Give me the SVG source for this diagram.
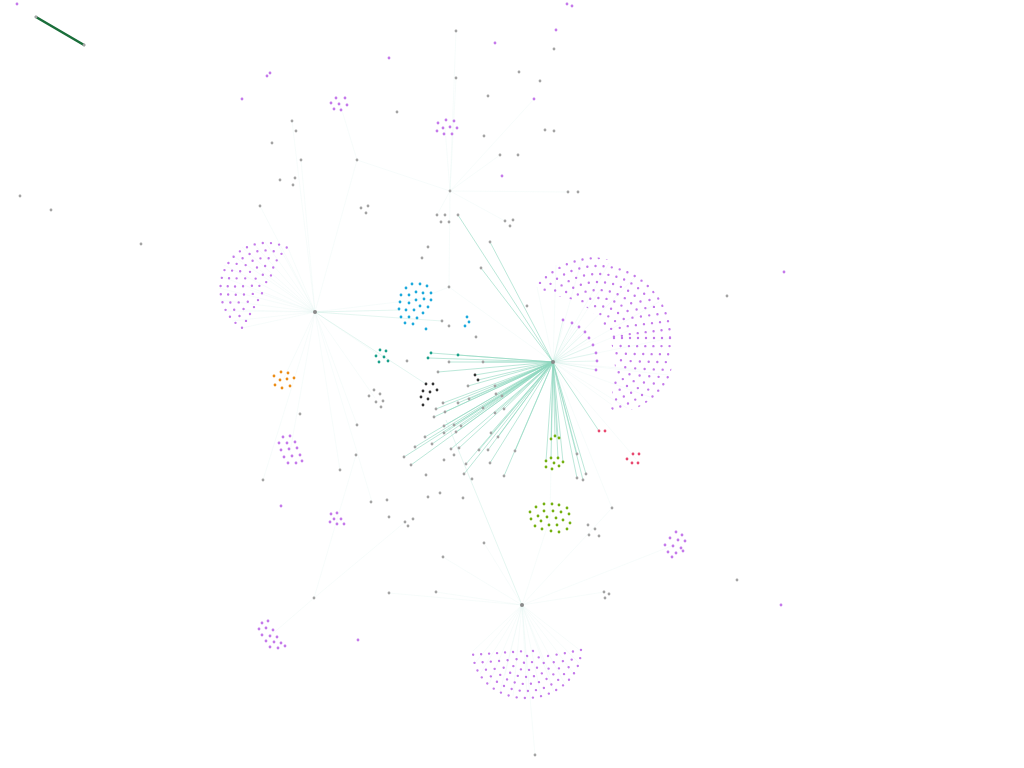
<svg xmlns="http://www.w3.org/2000/svg" width="1024" height="768" viewBox="0 0 1024 768">
<style>
.g{fill:#a3a3a3}.p{fill:#c479ea}.c{fill:#1ba9dc}.t{fill:#1aa08a}.k{fill:#333}.o{fill:#ec8c16}.gr{fill:#74b010}.r{fill:#e8486f}.h{fill:#8a8a8a}
.dp{fill:none;stroke:#c479ea;stroke-width:2.4;stroke-linecap:round;stroke-dasharray:0 8.2}
.e{stroke:#8fd6bf;stroke-width:0.8;opacity:0.75;fill:none}
.el{stroke:#b5e6d7;stroke-width:0.6;opacity:0.6;fill:none}
.f{stroke:#e2f4ef;stroke-width:0.5;opacity:0.55;fill:none}
</style>
<defs>
<circle id="n" r="1.4"/>
<clipPath id="cres"><polygon points="535,287 542,274 555,265 568,259 582,256 596,257 610,260 624,266 638,274 650,286 661,300 669,317 674,337 674,356 670,376 662,390 651,400 639,407 627,411 613,411 609,406 612,395 614,382 615,368 614,355 611,342 606,330 598,318 589,309 580,303 570,299 558,296 546,293 538,290"/></clipPath>
</defs>
<rect width="1024" height="768" fill="#fff"/>
<g id="connectors">
<g id="faint">
<path class="f" d="M315,312L242,328M315,312L232,321M315,312L224,311M315,312L220,300M315,312L219,288M315,312L220,276M315,312L224,265M315,312L232,255M315,312L242,247M315,312L253,243M315,312L265,242M315,312L277,243M315,312L288,248M315,312L250,290M315,312L260,270M315,312L245,310"/>
<path class="f" d="M522,605L581,651M522,605L579,663M522,605L574,674M522,605L565,684M522,605L554,692M522,605L541,696M522,605L527,698M522,605L513,696M522,605L500,692M522,605L489,684M522,605L480,674M522,605L475,663M522,605L473,651M522,605L527,670M522,605L505,675M522,605L550,675"/>
<path class="f" d="M553,362L537,287M553,362L556,265M553,362L582,259M553,362L609,263M553,362L636,276M553,362L659,302M553,362L671,338M553,362L668,375M553,362L650,397M553,362L627,408M553,362L612,405M553,362L600,290M553,362L630,330M553,362L640,370"/>
<path class="f" d="M450,191L456,78M450,191L456,31M450,191L445,128M450,191L357,160M450,191L449,287M450,191L437,215M450,191L500,155M450,191L534,99M357,160L340,104M357,160L315,312M301,160L315,312M292,121L315,312M315,312L283,380M315,312L290,452M315,312L414,300M315,312L380,356M314,598L270,636M314,598L405,522M314,598L356,455M522,605L612,508M522,605L674,545M522,605L550,518M553,362L636,459M553,362L612,508M553,362L550,518M315,312L263,480M315,312L260,206M450,191L505,221M450,191L568,192M449,287L416,300M449,287L553,362M357,425L315,312M340,470L315,312M522,605L443,557M522,605L389,593M522,605L436,592M522,605L535,755M522,605L604,592M522,605L484,543M315,312L375,398M315,312L372,502"/>
</g>
<g id="strong">
<path class="e" d="M553,362L458,215M553,362L490,242M553,362L481,268M553,362L458,355M553,362L431,353M553,362L428,358M553,362L449,362M553,362L483,362M553,362L438,372M553,362L478,380M553,362L475,375M553,362L468,386M553,362L458,403M553,362L469,399M553,362L443,403M553,362L436,409M553,362L445,412M553,362L434,417M553,362L444,426M553,362L454,425M553,362L461,426M553,362L425,437M553,362L444,433M553,362L456,432M553,362L415,447M553,362L404,457M553,362L411,465M553,362L432,444M553,362L451,449M553,362L459,448M553,362L479,450M553,362L488,450M553,362L483,408M553,362L495,413M553,362L504,409M553,362L491,433M553,362L498,437M553,362L490,463M553,362L466,464M553,362L464,474M553,362L504,476M553,362L515,451M553,362L502,396M553,362L496,394M553,362L495,386M553,362L551,439M553,362L555,437M553,362L558,438M553,362L546,461M553,362L551,458M553,362L558,458M553,362L563,462M553,362L577,454M553,362L586,474M553,362L577,478M553,362L583,480M553,362L599,431"/>
<path class="el" d="M553,362L563,320M553,362L572,323M553,362L579,327M553,362L585,332M553,362L589,338M553,362L593,345M553,362L596,353M553,362L597,361M553,362L596,370M315,312L442,321M315,312L426,384M446,420L522,605M315,312L400,310"/>
<path d="M36,17L84,45" stroke="#1a6e3a" stroke-width="2.6" stroke-linecap="round"/>
</g>
</g>
<g id="hubs">
<g id="hubA"><circle class="h" cx="553" cy="362" r="2"/></g>
<g id="hubB"><circle class="h" cx="315" cy="312" r="2"/></g>
<g id="hubC"><circle class="h" cx="522" cy="605" r="2"/></g>
</g>
<g id="cluster-right-crescent" clip-path="url(#cres)">
<circle class="dp" cx="598" cy="338" r="80"/><circle class="dp" cx="598" cy="338" r="72"/><circle class="dp" cx="598" cy="338" r="64"/><circle class="dp" cx="598" cy="338" r="56"/><circle class="dp" cx="598" cy="338" r="48"/><circle class="dp" cx="598" cy="338" r="40"/><circle class="dp" cx="598" cy="338" r="32"/><circle class="dp" cx="598" cy="338" r="24"/><circle class="dp" cx="598" cy="338" r="16"/>
</g>
<g id="cluster-right-inner" class="p">
<use href="#n" x="563" y="320"/><use href="#n" x="572" y="323"/><use href="#n" x="579" y="327"/><use href="#n" x="585" y="332"/><use href="#n" x="589" y="338"/><use href="#n" x="593" y="345"/><use href="#n" x="596" y="353"/><use href="#n" x="597" y="361"/><use href="#n" x="596" y="370"/>
</g>
<g id="cluster-left">
<path class="dp" d="M242,327.8A46,46 0 0 1 288,248.2"/>
<path class="dp" d="M246,320.9A38,38 0 0 1 284,255.1"/>
<path class="dp" d="M250,314A30,30 0 0 1 280,262"/>
<path class="dp" d="M254,307.1A22,22 0 0 1 276,268.9"/>
<path class="dp" d="M258,300.1A14,14 0 0 1 272,275.9"/>
<path class="dp" d="M262,293.2A6,6 0 0 1 268,282.8"/>
</g>
<g id="cluster-bottom" transform="rotate(-4 527 651)">
<path class="dp" d="M473,651A54,47 0 0 0 581,651"/>
<path class="dp" d="M481,651A46,40 0 0 0 573,651"/>
<path class="dp" d="M489,651A38,33 0 0 0 565,651"/>
<path class="dp" d="M497,651A30,26 0 0 0 557,651"/>
<path class="dp" d="M505,651A22,19 0 0 0 549,651"/>
<path class="dp" d="M513,651A14,12 0 0 0 541,651"/>
<path class="dp" d="M521,651A6,5 0 0 0 533,651"/>
</g>
<g id="cluster-purple-small" class="p">
<use href="#n" x="331" y="103"/><use href="#n" x="336" y="98"/><use href="#n" x="345" y="98"/><use href="#n" x="339" y="104"/><use href="#n" x="347" y="105"/><use href="#n" x="334" y="109"/><use href="#n" x="341" y="110"/>
<use href="#n" x="438" y="123"/><use href="#n" x="446" y="120"/><use href="#n" x="454" y="121"/><use href="#n" x="443" y="128"/><use href="#n" x="450" y="127"/><use href="#n" x="457" y="128"/><use href="#n" x="437" y="131"/><use href="#n" x="444" y="134"/><use href="#n" x="452" y="134"/>
<use href="#n" x="283" y="437"/><use href="#n" x="290" y="436"/><use href="#n" x="279" y="443"/><use href="#n" x="287" y="443"/><use href="#n" x="295" y="442"/><use href="#n" x="281" y="450"/><use href="#n" x="289" y="449"/><use href="#n" x="297" y="448"/><use href="#n" x="284" y="457"/><use href="#n" x="292" y="456"/><use href="#n" x="300" y="455"/><use href="#n" x="288" y="463"/><use href="#n" x="296" y="463"/><use href="#n" x="302" y="461"/>
<use href="#n" x="331" y="514"/><use href="#n" x="337" y="513"/><use href="#n" x="334" y="519"/><use href="#n" x="341" y="519"/><use href="#n" x="330" y="522"/><use href="#n" x="344" y="524"/><use href="#n" x="337" y="524"/>
<use href="#n" x="676" y="532"/><use href="#n" x="682" y="535"/><use href="#n" x="670" y="538"/><use href="#n" x="678" y="540"/><use href="#n" x="685" y="541"/><use href="#n" x="665" y="545"/><use href="#n" x="673" y="546"/><use href="#n" x="681" y="548"/><use href="#n" x="668" y="552"/><use href="#n" x="676" y="553"/><use href="#n" x="683" y="551"/><use href="#n" x="672" y="557"/>
<use href="#n" x="262" y="623"/><use href="#n" x="268" y="621"/><use href="#n" x="259" y="629"/><use href="#n" x="266" y="628"/><use href="#n" x="273" y="630"/><use href="#n" x="262" y="635"/><use href="#n" x="270" y="636"/><use href="#n" x="277" y="637"/><use href="#n" x="266" y="641"/><use href="#n" x="274" y="642"/><use href="#n" x="281" y="643"/><use href="#n" x="270" y="647"/><use href="#n" x="278" y="648"/><use href="#n" x="285" y="646"/>
<use href="#n" x="17" y="4"/><use href="#n" x="567" y="4"/><use href="#n" x="572" y="6"/><use href="#n" x="270" y="73"/><use href="#n" x="267" y="76"/><use href="#n" x="242" y="99"/><use href="#n" x="389" y="58"/><use href="#n" x="495" y="43"/><use href="#n" x="556" y="30"/><use href="#n" x="534" y="99"/><use href="#n" x="502" y="176"/><use href="#n" x="784" y="272"/><use href="#n" x="281" y="506"/><use href="#n" x="358" y="640"/><use href="#n" x="781" y="605"/>
</g>
<g id="cluster-cyan" class="c">
<use href="#n" x="406" y="288"/><use href="#n" x="412" y="284"/><use href="#n" x="420" y="284"/><use href="#n" x="427" y="286"/><use href="#n" x="401" y="295"/><use href="#n" x="409" y="295"/><use href="#n" x="416" y="292"/><use href="#n" x="423" y="293"/><use href="#n" x="431" y="293"/><use href="#n" x="400" y="302"/><use href="#n" x="409" y="303"/><use href="#n" x="416" y="300"/><use href="#n" x="424" y="299"/><use href="#n" x="431" y="300"/><use href="#n" x="399" y="309"/><use href="#n" x="406" y="310"/><use href="#n" x="414" y="310"/><use href="#n" x="420" y="306"/><use href="#n" x="428" y="307"/><use href="#n" x="401" y="317"/><use href="#n" x="409" y="317"/><use href="#n" x="417" y="318"/><use href="#n" x="423" y="313"/><use href="#n" x="405" y="323"/><use href="#n" x="413" y="324"/><use href="#n" x="426" y="329"/>
<use href="#n" x="467" y="317"/><use href="#n" x="469" y="322"/><use href="#n" x="465" y="326"/>
</g>
<g id="cluster-teal" class="t">
<use href="#n" x="380" y="350"/><use href="#n" x="386" y="351"/><use href="#n" x="376" y="356"/><use href="#n" x="384" y="357"/><use href="#n" x="379" y="362"/><use href="#n" x="388" y="361"/>
<use href="#n" x="431" y="353"/><use href="#n" x="428" y="358"/><use href="#n" x="458" y="355"/>
</g>
<g id="cluster-black" class="k">
<use href="#n" x="426" y="384"/><use href="#n" x="433" y="384"/><use href="#n" x="423" y="391"/><use href="#n" x="430" y="392"/><use href="#n" x="437" y="390"/><use href="#n" x="421" y="397"/><use href="#n" x="428" y="399"/><use href="#n" x="423" y="405"/><use href="#n" x="475" y="375"/><use href="#n" x="478" y="380"/>
</g>
<g id="cluster-orange" class="o">
<use href="#n" x="281" y="372"/><use href="#n" x="288" y="373"/><use href="#n" x="274" y="376"/><use href="#n" x="280" y="380"/><use href="#n" x="287" y="379"/><use href="#n" x="294" y="378"/><use href="#n" x="275" y="385"/><use href="#n" x="282" y="388"/><use href="#n" x="290" y="386"/>
</g>
<g id="cluster-green" class="gr">
<use href="#n" x="551" y="439"/><use href="#n" x="555" y="436"/><use href="#n" x="559" y="438"/><use href="#n" x="546" y="461"/><use href="#n" x="551" y="458"/><use href="#n" x="558" y="458"/><use href="#n" x="563" y="462"/><use href="#n" x="546" y="467"/><use href="#n" x="552" y="469"/><use href="#n" x="554" y="463"/><use href="#n" x="559" y="466"/>
<use href="#n" x="544" y="504"/><use href="#n" x="552" y="504"/><use href="#n" x="559" y="505"/><use href="#n" x="536" y="507"/><use href="#n" x="567" y="508"/><use href="#n" x="544" y="511"/><use href="#n" x="553" y="511"/><use href="#n" x="561" y="512"/><use href="#n" x="530" y="512"/><use href="#n" x="569" y="514"/><use href="#n" x="538" y="516"/><use href="#n" x="547" y="517"/><use href="#n" x="556" y="518"/><use href="#n" x="563" y="520"/><use href="#n" x="531" y="519"/><use href="#n" x="541" y="521"/><use href="#n" x="549" y="525"/><use href="#n" x="557" y="525"/><use href="#n" x="570" y="523"/><use href="#n" x="535" y="526"/><use href="#n" x="542" y="529"/><use href="#n" x="551" y="531"/><use href="#n" x="559" y="532"/><use href="#n" x="567" y="529"/>
</g>
<g id="cluster-red" class="r">
<use href="#n" x="599" y="431"/><use href="#n" x="605" y="431"/><use href="#n" x="627" y="459"/><use href="#n" x="633" y="454"/><use href="#n" x="639" y="454"/><use href="#n" x="632" y="463"/><use href="#n" x="638" y="463"/>
</g>
<g id="nodes-gray" class="g">
<use href="#n" x="36" y="17"/><use href="#n" x="84" y="45"/>
<use href="#n" x="456" y="31"/><use href="#n" x="554" y="49"/><use href="#n" x="456" y="78"/><use href="#n" x="519" y="72"/><use href="#n" x="540" y="81"/><use href="#n" x="488" y="96"/><use href="#n" x="397" y="112"/><use href="#n" x="292" y="121"/><use href="#n" x="296" y="131"/><use href="#n" x="484" y="136"/><use href="#n" x="545" y="130"/><use href="#n" x="554" y="131"/><use href="#n" x="272" y="143"/><use href="#n" x="500" y="155"/><use href="#n" x="518" y="155"/><use href="#n" x="301" y="160"/><use href="#n" x="357" y="160"/><use href="#n" x="280" y="180"/><use href="#n" x="295" y="178"/><use href="#n" x="293" y="185"/><use href="#n" x="450" y="191"/><use href="#n" x="568" y="192"/><use href="#n" x="578" y="192"/><use href="#n" x="260" y="206"/><use href="#n" x="361" y="208"/><use href="#n" x="368" y="206"/><use href="#n" x="366" y="213"/><use href="#n" x="437" y="215"/><use href="#n" x="445" y="215"/><use href="#n" x="458" y="215"/><use href="#n" x="441" y="222"/><use href="#n" x="449" y="222"/><use href="#n" x="505" y="221"/><use href="#n" x="513" y="220"/><use href="#n" x="510" y="226"/><use href="#n" x="20" y="196"/><use href="#n" x="51" y="210"/><use href="#n" x="141" y="244"/><use href="#n" x="490" y="242"/><use href="#n" x="428" y="247"/><use href="#n" x="422" y="258"/><use href="#n" x="481" y="268"/><use href="#n" x="449" y="287"/><use href="#n" x="527" y="306"/><use href="#n" x="442" y="321"/><use href="#n" x="449" y="326"/><use href="#n" x="476" y="337"/><use href="#n" x="727" y="296"/>
<use href="#n" x="407" y="361"/><use href="#n" x="449" y="362"/><use href="#n" x="483" y="362"/><use href="#n" x="438" y="372"/><use href="#n" x="468" y="386"/><use href="#n" x="495" y="386"/><use href="#n" x="496" y="394"/><use href="#n" x="502" y="396"/><use href="#n" x="469" y="399"/><use href="#n" x="458" y="403"/><use href="#n" x="443" y="403"/><use href="#n" x="436" y="409"/><use href="#n" x="445" y="412"/><use href="#n" x="483" y="408"/><use href="#n" x="504" y="409"/><use href="#n" x="495" y="413"/><use href="#n" x="434" y="417"/><use href="#n" x="444" y="426"/><use href="#n" x="454" y="425"/><use href="#n" x="461" y="426"/><use href="#n" x="444" y="433"/><use href="#n" x="456" y="432"/><use href="#n" x="425" y="437"/><use href="#n" x="491" y="433"/><use href="#n" x="498" y="437"/><use href="#n" x="415" y="447"/><use href="#n" x="432" y="444"/><use href="#n" x="451" y="449"/><use href="#n" x="459" y="448"/><use href="#n" x="479" y="450"/><use href="#n" x="488" y="450"/><use href="#n" x="515" y="451"/><use href="#n" x="404" y="457"/><use href="#n" x="411" y="465"/><use href="#n" x="444" y="460"/><use href="#n" x="454" y="455"/><use href="#n" x="466" y="464"/><use href="#n" x="490" y="463"/><use href="#n" x="464" y="474"/><use href="#n" x="472" y="479"/><use href="#n" x="504" y="476"/>
<use href="#n" x="374" y="390"/><use href="#n" x="380" y="394"/><use href="#n" x="369" y="396"/><use href="#n" x="376" y="402"/><use href="#n" x="383" y="401"/><use href="#n" x="381" y="407"/>
<use href="#n" x="357" y="425"/><use href="#n" x="356" y="455"/><use href="#n" x="340" y="470"/><use href="#n" x="263" y="480"/><use href="#n" x="300" y="414"/><use href="#n" x="371" y="502"/><use href="#n" x="387" y="500"/><use href="#n" x="389" y="517"/><use href="#n" x="405" y="522"/><use href="#n" x="413" y="519"/><use href="#n" x="408" y="526"/><use href="#n" x="426" y="475"/><use href="#n" x="440" y="493"/><use href="#n" x="428" y="497"/><use href="#n" x="463" y="498"/><use href="#n" x="443" y="557"/><use href="#n" x="484" y="543"/><use href="#n" x="389" y="593"/><use href="#n" x="436" y="592"/><use href="#n" x="314" y="598"/><use href="#n" x="604" y="592"/><use href="#n" x="609" y="594"/><use href="#n" x="605" y="598"/><use href="#n" x="737" y="580"/><use href="#n" x="535" y="755"/><use href="#n" x="612" y="508"/><use href="#n" x="588" y="525"/><use href="#n" x="595" y="529"/><use href="#n" x="589" y="535"/><use href="#n" x="599" y="536"/><use href="#n" x="577" y="454"/><use href="#n" x="586" y="474"/><use href="#n" x="577" y="478"/><use href="#n" x="583" y="480"/>
</g>
</svg>
